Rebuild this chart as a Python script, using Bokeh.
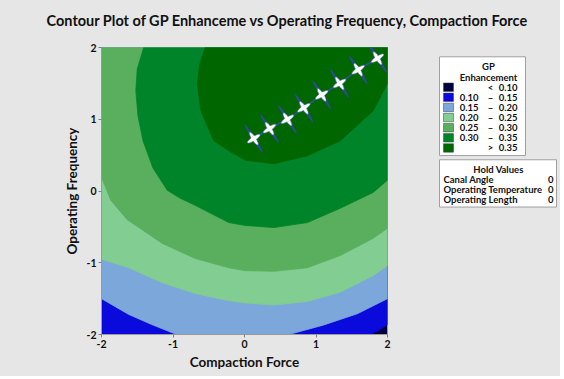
from bokeh.plotting import figure
from bokeh.models import FixedTicker, Range1d
from bokeh.layouts import column, row
from bokeh.core.properties import value
from bokeh.embed import file_html
from bokeh.resources import INLINE
import math

# ---------------- data ----------------
x_ticks = [-2, -1, 0, 1, 2]
y_ticks = [-2, -1, 0, 1, 2]

level_lo = ["", "0.10", "0.15", "0.20", "0.25", "0.30", ""]
level_hi = ["0.10", "0.15", "0.20", "0.25", "0.30", "0.35", "0.35"]
level_sign = ["<", "\u2013", "\u2013", "\u2013", "\u2013", "\u2013", ">"]
colors = ["#00003c", "#0a0adc", "#7ba7da", "#82cd91", "#5aaf5e", "#00842a", "#006600"]

# contour boundaries (Compaction Force, Operating Frequency)
b010_x = [1.76, 1.88, 2.0]
b010_y = [-2.0, -1.94, -1.86]

b015a_x = [-2.0, -1.62, -1.30, -0.95]
b015a_y = [-1.50, -1.72, -1.86, -2.0]
b015b_x = [0.62, 1.10, 1.58, 2.0]
b015b_y = [-2.0, -1.87, -1.71, -1.50]

b020_x = [-2.0, -1.62, -1.15, -0.69, -0.22, 0.01, 0.41, 0.88, 1.34, 1.80, 2.0]
b020_y = [-0.95, -1.07, -1.28, -1.43, -1.53, -1.56, -1.59, -1.54, -1.41, -1.18, -1.04]

b025_x = [-2.0, -1.87, -1.64, -1.15, -0.69, -0.22, 0.01, 0.41, 0.88, 1.34, 1.80, 2.0]
b025_y = [0.19, -0.13, -0.40, -0.73, -0.94, -1.07, -1.11, -1.12, -1.07, -0.90, -0.66, -0.52]

b030_x = [-1.41, -1.50, -1.52, -1.49, -1.42, -1.28, -1.08, -0.90, -0.69, -0.22, 0.01, 0.41, 0.88, 1.34, 1.80, 2.0]
b030_y = [2.0, 1.70, 1.40, 1.05, 0.70, 0.32, 0.01, -0.10, -0.20, -0.44, -0.48, -0.51, -0.44, -0.24, -0.02, 0.15]

b035_x = [-0.55, -0.63, -0.66, -0.61, -0.43, -0.20, 0.01, 0.41, 0.88, 1.34, 1.80, 2.0]
b035_y = [2.0, 1.75, 1.50, 1.12, 0.70, 0.55, 0.43, 0.38, 0.49, 0.70, 1.12, 1.50]

# optimisation path markers
path_x = [0.13, 0.35, 0.60, 0.83, 1.08, 1.33, 1.59, 1.86]
path_y = [0.73, 0.87, 1.00, 1.16, 1.34, 1.50, 1.69, 1.85]

hold_names = ["Canal Angle", "Operating Temperature", "Operating Length"]
hold_vals = ["0", "0", "0"]

title_text = "Contour Plot of GP Enhanceme vs Operating Frequency, Compaction Force"
xlabel = "Compaction Force"
ylabel = "Operating Frequency"

# ---------------- layout ----------------
W, H = 560, 376
TH = 36                    # title strip height
FL, FR, FT, FB = 101, 387, 47, 334   # plot frame (page pixels)
MW = FR + 30               # main figure width
BG = "#e6e6e6"
FONT = "Lato"
TXT = "#111111"
LFS = "9.5px"
XMIN, XMAX, YMIN, YMAX = -2, 2, -2, 2


def blank(width, height, x0, y0):
    f = figure(width=width, height=height, output_backend="svg", toolbar_location=None,
               x_range=Range1d(x0, x0 + width), y_range=Range1d(y0 + height, y0),
               min_border=0, min_border_left=0, min_border_right=0,
               min_border_top=0, min_border_bottom=0)
    f.axis.visible = False
    f.grid.visible = False
    f.outline_line_color = None
    f.background_fill_color = BG
    f.border_fill_color = BG
    f.styles = {"background-color": BG}
    return f


def txt(f, x, y, s, size, align="center", bold=True):
    f.text([x], [y], text=[s], text_font=value(FONT), text_font_size=size,
           text_font_style="bold" if bold else "normal", text_align=align,
           text_baseline="middle", text_color=TXT)


# title strip
pt = blank(W, TH, 0, 0)
txt(pt, 287, 20, title_text, "14.5px")

# main contour figure
p = figure(width=MW, height=H - TH, output_backend="svg", toolbar_location=None,
           x_range=Range1d(XMIN, XMAX), y_range=Range1d(YMIN, YMAX),
           min_border_left=FL, min_border_right=MW - FR,
           min_border_top=FT - TH, min_border_bottom=H - FB)
p.border_fill_color = BG
p.background_fill_color = colors[0]
p.outline_line_color = "#9a9a9a"
p.grid.visible = False
p.styles = {"background-color": BG}

polys_x, polys_y, polys_c = [], [], []
polys_x.append([XMIN] + b010_x + [XMAX, XMIN])
polys_y.append([YMIN] + b010_y + [YMAX, YMAX])
polys_c.append(colors[1])
polys_x.append(b015a_x + b015b_x + [XMAX, XMIN])
polys_y.append(b015a_y + b015b_y + [YMAX, YMAX])
polys_c.append(colors[2])
polys_x.append(b020_x + [XMAX, XMIN])
polys_y.append(b020_y + [YMAX, YMAX])
polys_c.append(colors[3])
polys_x.append(b025_x + [XMAX, XMIN])
polys_y.append(b025_y + [YMAX, YMAX])
polys_c.append(colors[4])
polys_x.append(b030_x + [XMAX])
polys_y.append(b030_y + [YMAX])
polys_c.append(colors[5])
polys_x.append(b035_x + [XMAX])
polys_y.append(b035_y + [YMAX])
polys_c.append(colors[6])
p.patches(polys_x, polys_y, fill_color=polys_c, line_color=polys_c, line_width=0.8)

p.line(path_x, path_y, line_color="#34509e", line_width=1.5)
p.ellipse(path_x, path_y, width=34, height=3, angle=math.radians(123),
          width_units="screen", height_units="screen",
          fill_color="#2e4a98", line_color=None)
p.ellipse(path_x, path_y, width=15, height=4, angle=math.radians(123),
          width_units="screen", height_units="screen",
          fill_color="white", line_color="#5a74b8", line_width=0.6)
p.ellipse(path_x, path_y, width=15, height=4, angle=math.radians(33),
          width_units="screen", height_units="screen",
          fill_color="white", line_color="#5a74b8", line_width=0.6)
p.scatter(path_x, path_y, size=5, fill_color="white", line_color=None)

for ax, t in ((p.xaxis, x_ticks), (p.yaxis, y_ticks)):
    ax.ticker = FixedTicker(ticks=t)
    ax.major_label_overrides = {v: str(v) for v in t}
    ax.major_label_text_font = FONT
    ax.major_label_text_font_style = "bold"
    ax.major_label_text_font_size = "10.5px"
    ax.major_label_text_color = TXT
    ax.axis_line_color = "#9a9a9a"
    ax.major_tick_line_color = "#808080"
    ax.major_tick_in = 0
    ax.major_tick_out = 3
    ax.minor_tick_line_color = None
    ax.axis_label_text_font = FONT
    ax.axis_label_text_font_style = "bold"
    ax.axis_label_text_font_size = "13.5px"
    ax.axis_label_text_color = TXT
    ax.axis_label_standoff = 3
p.xaxis.axis_label = xlabel
p.yaxis.axis_label = ylabel
p.xaxis.major_label_standoff = 2
p.yaxis.major_label_standoff = 2

# legend / hold values panel (page pixel coordinates)
pl = blank(W - MW, H - TH, MW, TH)
pl.quad(left=[439], right=[525], top=[47], bottom=[164],
        fill_color="white", line_color="#a0a0a0", line_width=1)
txt(pl, 488, 59, "GP", LFS)
txt(pl, 488, 71, "Enhancement", LFS)
row0, step = 83, 12
sw_l, sw_r, sw_t, sw_b = [], [], [], []
for i in range(len(colors)):
    ry = row0 + i * step
    sw_l.append(443); sw_r.append(453); sw_t.append(ry - 5); sw_b.append(ry + 5)
    if level_lo[i]:
        txt(pl, 478, ry, level_lo[i], LFS, align="right")
    txt(pl, 490, ry, level_sign[i], LFS)
    txt(pl, 517, ry, level_hi[i], LFS, align="right")
pl.quad(left=sw_l, right=sw_r, top=sw_t, bottom=sw_b, fill_color=colors,
        line_color="#404040", line_width=0.5)

pl.quad(left=[439], right=[556], top=[169], bottom=[225],
        fill_color="white", line_color="#a0a0a0", line_width=1)
txt(pl, 498, 180, "Hold Values", LFS)
for i, (n, v) in enumerate(zip(hold_names, hold_vals)):
    ry = 192 + i * 12
    txt(pl, 443, ry, n, LFS, align="left")
    txt(pl, 553, ry, v, LFS, align="right")

layout = column(pt, row(p, pl, spacing=0, styles={"background-color": BG}),
                spacing=0, styles={"background-color": BG})
open("out.html", "w").write(file_html(layout, INLINE))
